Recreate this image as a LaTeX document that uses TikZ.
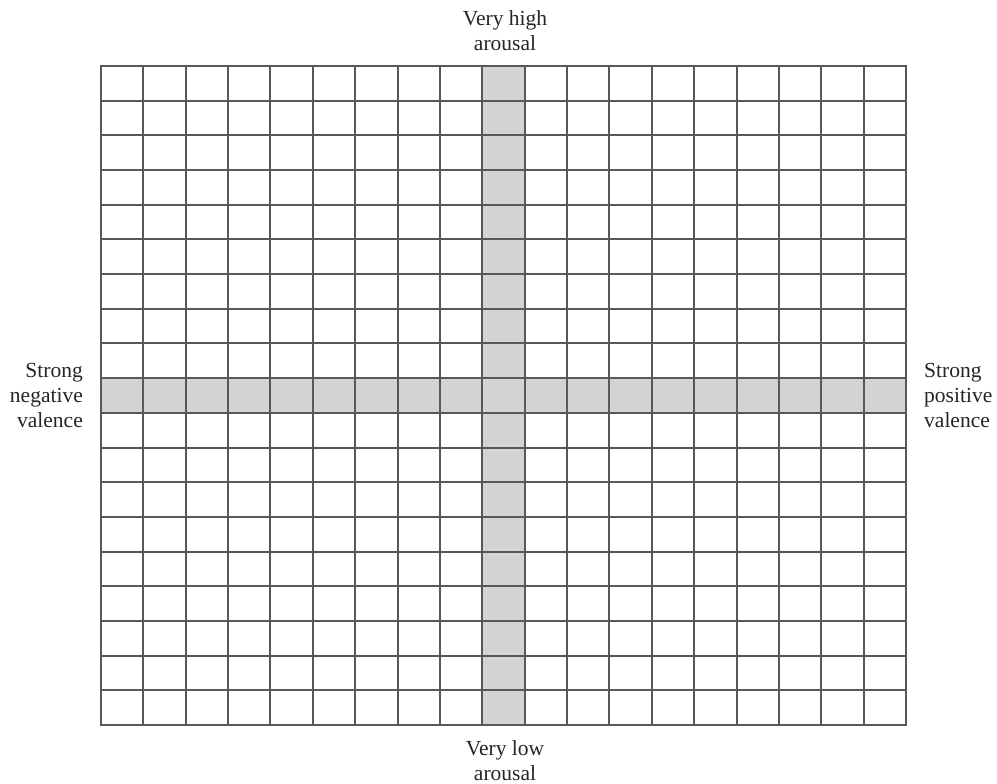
\documentclass[tikz,border=0pt]{standalone}
\usepackage{fontspec}
\setmainfont{Liberation Serif}
\definecolor{gridline}{HTML}{585858}
\definecolor{band}{HTML}{D4D4D4}
\begin{document}
\begin{tikzpicture}[x=1pt,y=-1pt,
  gridstroke/.style={draw=gridline,line width=2pt},
  lbl/.style={inner sep=0pt,font=\fontsize{21.5}{25}\selectfont,text=black!85}]
\useasboundingbox[fill=white] (0,0) rectangle (997,784);
\def\xa{101}\def\xb{906}\def\ya{66}\def\yb{725}
\pgfmathsetmacro{\cw}{(\xb-\xa)/19}
\pgfmathsetmacro{\rh}{(\yb-\ya)/19}
% shaded bands
\fill[band] ({round(\xa+9*\cw)},\ya) rectangle ({round(\xa+10*\cw)},\yb);
\fill[band] (\xa,{round(\ya+9*\rh)}) rectangle (\xb,{round(\ya+10*\rh)});
% grid lines
\foreach \i in {0,...,19}{
  \pgfmathsetmacro{\gx}{round(\xa+\i*\cw)}
  \pgfmathsetmacro{\gy}{round(\ya+\i*\rh)}
  \draw[gridstroke] (\gx,\ya-1) -- (\gx,\yb+1);
  \draw[gridstroke] (\xa-1,\gy) -- (\xb+1,\gy);
}
% labels
\node[lbl,align=center,anchor=north] (top) at (505,10.5) {Very high\\arousal};
\node[lbl,align=center,anchor=north] (bottom) at (505,740.5) {Very low\\arousal};
\node[lbl,align=right,anchor=north east] (left) at (83,363.5) {Strong\\negative\\valence};
\node[lbl,align=left,anchor=north west] (right) at (924,363.5) {Strong\\positive\\valence};
\end{tikzpicture}
\end{document}
